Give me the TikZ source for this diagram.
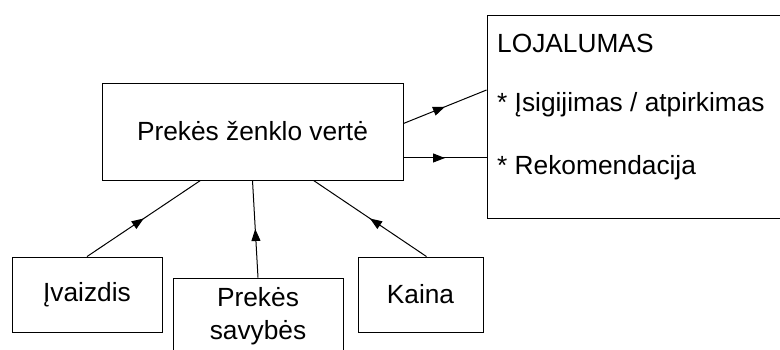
\documentclass[tikz,border=0pt]{standalone}
\usepackage{fontspec}
\setmainfont{Liberation Sans}
\usetikzlibrary{arrows.meta,decorations.markings}

\begin{document}
\begin{tikzpicture}[x=1pt,y=-1pt,
    block/.style ={rectangle, draw, line width=0.9pt, inner sep=0pt, font=\fontsize{26.3}{33}\selectfont},
    item/.style ={anchor=west, inner sep=0pt, font=\fontsize{26.3}{33}\selectfont},
    flow/.style ={line width=1pt, decoration={markings,
        mark=at position 0.5 with {\arrow{Triangle[length=12pt,width=9pt]}}},
        postaction={decorate}}]
   \clip (0,0) rectangle (780,350);

   \node[block, minimum width=301pt, minimum height=97pt] (verte) at (252.5,131.5) {Prekės ženklo vertė};
   \node[block, minimum width=294pt, minimum height=203pt] (loj) at (634,116.5) {};
   \node[item] (lojT) at (497,43) {LOJALUMAS};
   \node[item] (lojA) at (497,105) {* Įsigijimas / atpirkimas};
   \node[item] (lojB) at (497,168) {* Rekomendacija};

   \node[block, minimum width=150pt, minimum height=75pt] (ivaiz) at (87,294.5) {Įvaizdis};
   \node[block, minimum width=170pt, minimum height=77pt, align=center] (savyb) at (258,316.5) {Prekės\\savybės};
   \node[block, minimum width=125pt, minimum height=75pt] (kaina) at (420.5,294.5) {Kaina};

   % vertė -> lojalumas
   \draw[flow] ([yshift=8pt]verte.east) -- ([yshift=26.5pt]loj.west);
   \draw[flow] ([yshift=-26.5pt]verte.east) -- ([yshift=-41.5pt]loj.west);

   % veiksniai -> vertė
   \draw[flow] (ivaiz.north) -- ([xshift=-52pt]verte.south);
   \draw[flow] (savyb.north) -- (verte.south);
   \draw[flow] ([xshift=6pt]kaina.north) -- ([xshift=61pt]verte.south);

 \end{tikzpicture}
\end{document}
